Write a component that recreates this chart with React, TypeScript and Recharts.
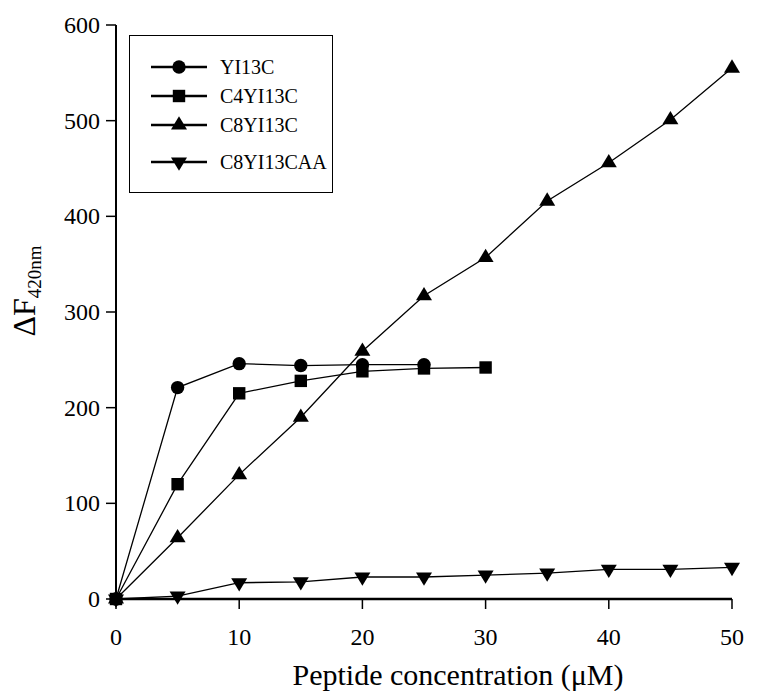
import { Legend, Line, LineChart, XAxis, YAxis } from "recharts";

// peptide concentration (µM) sampled every 5
const concentration = [0, 5, 10, 15, 20, 25, 30, 35, 40, 45, 50];

const yi13c = [0, 221, 246, 244, 245, 245];
const c4yi13c = [0, 120, 215, 228, 238, 241, 242];
const c8yi13c = [0, 64, 130, 190, 259, 317, 357, 416, 456, 501, 555];
const c8yi13caa = [0, 3, 17, 18, 23, 23, 25, 27, 31, 31, 33];

const seriesNames = ["YI13C", "C4YI13C", "C8YI13C", "C8YI13CAA"];
const xTicks = [0, 10, 20, 30, 40, 50];
const yTicks = [0, 100, 200, 300, 400, 500, 600];

type Shape = "circle" | "square" | "triangle" | "down";
const shapes: Shape[] = ["circle", "square", "triangle", "down"];

const font = "'Liberation Serif', 'Times New Roman', serif";

const toPoints = (vals: number[]) => vals.map((v, i) => ({ x: concentration[i], y: v }));

function Marker({ shape, cx, cy }: { shape: Shape; cx: number; cy: number }) {
  if (shape === "circle") return <circle cx={cx} cy={cy} r={6.7} fill="#000" />;
  if (shape === "square") return <rect x={cx - 6.2} y={cy - 6.2} width={12.4} height={12.4} fill="#000" />;
  if (shape === "triangle")
    return <polygon points={`${cx},${cy - 8.7} ${cx - 8},${cy + 4.6} ${cx + 8},${cy + 4.6}`} fill="#000" />;
  return <polygon points={`${cx},${cy + 8.7} ${cx - 8},${cy - 4.6} ${cx + 8},${cy - 4.6}`} fill="#000" />;
}

const dotFor = (shape: Shape) => (props: any) => (
  <g key={`${shape}-${props.index}`}>
    <Marker shape={shape} cx={props.cx} cy={props.cy} />
  </g>
);

const renderXTick = (props: any) => (
  <text key={`xt-${props.index}`} x={props.x} y={props.y} dy={17} textAnchor="middle" fontSize={24} fontFamily={font} fill="#000">
    {props.payload.value}
  </text>
);

const renderYTick = (props: any) => (
  <text key={`yt-${props.index}`} x={props.x} y={props.y} dy={8} textAnchor="end" fontSize={24} fontFamily={font} fill="#000">
    {props.payload.value}
  </text>
);

function LegendBox() {
  const rows = [31, 60, 89, 126];
  return (
    <svg width={201} height={155} style={{ display: "block" }}>
      {seriesNames.map((name, i) => (
        <g key={name}>
          <line x1={21} x2={77} y1={rows[i]} y2={rows[i]} stroke="#000" strokeWidth={2.5} />
          <Marker shape={shapes[i]} cx={49} cy={rows[i]} />
          <text x={90} y={rows[i]} dy="0.35em" fontSize={20} fontFamily={font} fill="#000">
            {name}
          </text>
        </g>
      ))}
    </svg>
  );
}

const series = [yi13c, c4yi13c, c8yi13c, c8yi13caa];

export default function App() {
  return (
    <div style={{ position: "absolute", left: 0, top: 0, background: "#fff" }}>
      <LineChart width={758} height={691} margin={{ top: 25, right: 26, bottom: 32, left: 56 }}>
        <XAxis
          type="number"
          dataKey="x"
          domain={[0, 50]}
          ticks={xTicks}
          height={60}
          axisLine={{ stroke: "#000", strokeWidth: 2.5 }}
          tickLine={{ stroke: "#000", strokeWidth: 1.5 }}
          tickSize={10}
          tickMargin={19}
          tick={renderXTick}
        />
        <YAxis
          type="number"
          dataKey="y"
          domain={[0, 600]}
          ticks={yTicks}
          width={60}
          axisLine={{ stroke: "#000", strokeWidth: 2 }}
          tickLine={{ stroke: "#000", strokeWidth: 1.5 }}
          tickSize={10}
          tickMargin={6}
          tick={renderYTick}
        />
        {series.map((vals, i) => (
          <Line
            key={seriesNames[i]}
            name={seriesNames[i]}
            data={toPoints(vals)}
            dataKey="y"
            type="linear"
            stroke="#000"
            strokeWidth={1.3}
            dot={dotFor(shapes[i])}
            activeDot={false}
            isAnimationActive={false}
          />
        ))}
        <Legend
          layout="vertical"
          align="center"
          verticalAlign="middle"
          content={() => <LegendBox />}
          wrapperStyle={{
            left: 129,
            top: 35,
            width: 204,
            height: 158,
            border: "1.5px solid #000",
            boxSizing: "border-box",
            background: "#fff",
          }}
        />
        <text x={458} y={685} textAnchor="middle" fontSize={30} fontFamily={font} fill="#000">
          Peptide concentration (μM)
        </text>
        <text
          x={35}
          y={291}
          transform="rotate(-90 35 291)"
          textAnchor="middle"
          fontSize={32}
          fontFamily={font}
          fill="#000"
        >
          ΔF
          <tspan fontSize={19} dy={6}>
            420nm
          </tspan>
        </text>
      </LineChart>
    </div>
  );
}
